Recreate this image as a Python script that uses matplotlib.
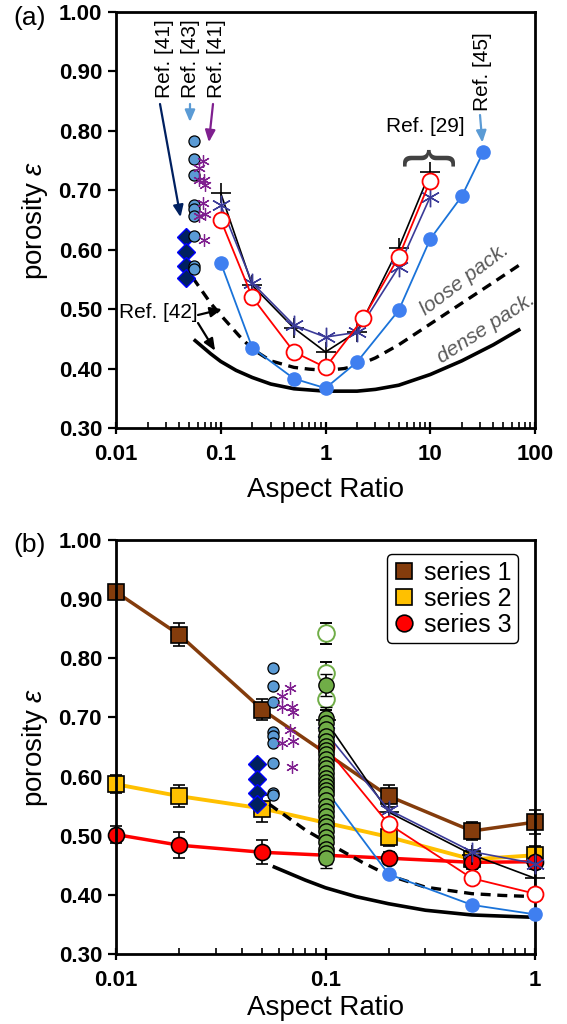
import matplotlib
matplotlib.use("Agg")
import matplotlib.pyplot as plt
from matplotlib.lines import Line2D
from matplotlib.ticker import NullFormatter

plt.rcParams['font.family'] = ['Liberation Sans', 'DejaVu Sans']
plt.rcParams['mathtext.fontset'] = 'custom'
plt.rcParams['mathtext.it'] = 'Liberation Sans:italic'
plt.rcParams['mathtext.rm'] = 'Liberation Sans'

# ---- data ----
# model / literature curves (panel a, re-used in panel b up to AR=1)
blue_x = [0.1, 0.2, 0.5, 1, 2, 5, 10, 20, 32]
blue_y = [0.578, 0.435, 0.383, 0.367, 0.411, 0.498, 0.618, 0.690, 0.764]
red_x = [0.1, 0.2, 0.5, 1, 2.3, 5, 10]
red_y = [0.650, 0.520, 0.428, 0.402, 0.485, 0.588, 0.716]
plus_x = [0.1, 0.2, 0.5, 1, 2, 5, 10]
plus_y = [0.695, 0.540, 0.468, 0.428, 0.462, 0.603, 0.731]
star_x = [0.1, 0.2, 0.5, 1, 2, 5, 10]
star_y = [0.675, 0.544, 0.473, 0.453, 0.461, 0.571, 0.689]

loose_x = [0.054, 0.08, 0.1, 0.15, 0.2, 0.3, 0.5, 0.7, 1, 1.5, 2, 3, 5, 10, 20, 40, 72]
loose_y = [0.553, 0.51, 0.49, 0.455, 0.433, 0.413, 0.402, 0.399, 0.397, 0.40, 0.405,
           0.418, 0.44, 0.475, 0.51, 0.545, 0.575]
dense_x = [0.057, 0.08, 0.1, 0.14, 0.2, 0.3, 0.5, 1, 2, 3, 5, 10, 20, 40, 70]
dense_y = [0.447, 0.425, 0.412, 0.397, 0.385, 0.374, 0.366, 0.362, 0.362, 0.365,
           0.372, 0.39, 0.413, 0.44, 0.465]

# scattered literature points near AR~0.05
ltblue_x = [0.056] * 9
ltblue_y = [0.783, 0.753, 0.726, 0.675, 0.668, 0.656, 0.623, 0.572, 0.568]
purple_x = [0.062, 0.068, 0.062, 0.069, 0.070, 0.068, 0.062, 0.070, 0.069]
purple_y = [0.737, 0.749, 0.717, 0.717, 0.709, 0.678, 0.656, 0.660, 0.616]
diam_x = [0.047] * 4
diam_y = [0.622, 0.596, 0.573, 0.553]

# panel b: series
ser_x = [0.01, 0.02, 0.05, 0.2, 0.5, 1]
s1_y = [0.912, 0.840, 0.713, 0.567, 0.508, 0.523]
s1_e = [0.012, 0.02, 0.018, 0.018, 0.015, 0.02]
s2_y = [0.587, 0.567, 0.546, 0.498, 0.460, 0.467]
s2_e = [0.015, 0.018, 0.022, 0.015, 0.015, 0.015]
s3_y = [0.502, 0.484, 0.472, 0.462, 0.455, 0.456]
s3_e = [0.015, 0.022, 0.02, 0.01, 0.012, 0.012]

# green column at AR = 0.1
green_open_y = [0.842, 0.775, 0.731]
green_y = [0.755, 0.699, 0.690, 0.680, 0.668, 0.660, 0.652, 0.645, 0.638, 0.630,
           0.622, 0.615, 0.606, 0.598, 0.590, 0.584, 0.578, 0.570, 0.560, 0.550,
           0.542, 0.533, 0.524, 0.516, 0.508, 0.497, 0.489, 0.478, 0.470, 0.463]

C_BLUE = '#3f7ff0'
C_BLUE_LN = '#1a73d9'
C_RED = '#ff0000'
C_STAR = '#3b3b98'
C_LTBLUE = '#5b9bd5'
C_PURPLE = '#7f1f8f'
C_NAVY = '#002060'
C_BROWN = '#843c0c'
C_YELLOW = '#ffc000'
C_GREEN = '#70ad47'
AST = (6, 2, 0)

FS_TICK = 16
FS_LAB = 20
FS_REF = 15


def upto(xs, ys, xmax):
    pts = [(a, b) for a, b in zip(xs, ys) if a <= xmax]
    return [p[0] for p in pts], [p[1] for p in pts]


def style_axes(ax, xmax, xticks, xlabels, xpad):
    ax.set_xscale('log')
    ax.set_xlim(0.01, xmax)
    ax.set_ylim(0.30, 1.00)
    ax.set_xticks(xticks)
    ax.set_xticklabels(xlabels, fontweight='bold', fontsize=FS_TICK)
    ax.xaxis.set_minor_formatter(NullFormatter())
    yt = [0.3 + 0.1 * i for i in range(8)]
    ax.set_yticks(yt)
    ax.set_yticklabels(['%.2f' % v for v in yt], fontweight='bold', fontsize=FS_TICK)
    for s in ax.spines.values():
        s.set_linewidth(2.0)
    ax.tick_params(axis='y', direction='out', length=6, width=1.6, pad=4)
    ax.tick_params(axis='x', which='major', direction='inout', length=9, width=1.6, pad=7)
    ax.tick_params(axis='x', which='minor', direction='in', length=4, width=1.2)
    ax.set_xlabel('Aspect Ratio', fontsize=FS_LAB, labelpad=xpad)
    ax.set_ylabel('porosity $\\varepsilon$', fontsize=FS_LAB, labelpad=6)


def draw_lit(ax, xmax):
    x, y = upto(dense_x, dense_y, xmax)
    ax.plot(x, y, color='black', lw=2.6, zorder=3, clip_on=False)
    x, y = upto(loose_x, loose_y, xmax)
    ax.plot(x, y, color='black', lw=2.4, ls=(0, (3, 2)), zorder=3, clip_on=False)
    x, y = upto(blue_x, blue_y, xmax)
    ax.plot(x, y, color=C_BLUE_LN, lw=1.3, marker='o', ms=9.5, mfc=C_BLUE, mec=C_BLUE,
            zorder=4, clip_on=False)
    x, y = upto(plus_x, plus_y, xmax)
    ax.plot(x, y, color='black', lw=1.2, marker='+', ms=14, mew=1.2, zorder=4, clip_on=False)
    x, y = upto(star_x, star_y, xmax)
    ax.plot(x, y, color=C_STAR, lw=1.2, marker=AST, ms=14, mew=1.0, zorder=4, clip_on=False)
    x, y = upto(red_x, red_y, xmax)
    ax.plot(x, y, color=C_RED, lw=1.3, marker='o', ms=11.5, mfc='white', mec=C_RED,
            mew=1.3, zorder=5, clip_on=False)
    ax.plot(diam_x, diam_y, ls='none', marker='D', ms=9.5, mfc=C_NAVY, mec='#0000ff',
            mew=1.0, zorder=5)
    ax.plot(ltblue_x, ltblue_y, ls='none', marker='o', ms=8, mfc=C_LTBLUE, mec='black',
            mew=0.9, zorder=6)
    ax.plot(purple_x, purple_y, ls='none', marker=AST, ms=9, color=C_PURPLE, mew=0.9,
            zorder=6)


fig = plt.figure(figsize=(5.67, 10.24), dpi=100)
W, H = 567.0, 1024.0

# ---------------- panel (a) ----------------
ax1 = fig.add_axes([116 / W, 1 - 428 / H, 419 / W, 416 / H])
draw_lit(ax1, 100)
style_axes(ax1, 100, [0.01, 0.1, 1, 10, 100], ['0.01', '0.1', '1', '10', '100'], 9)
fig.text(30 / W, 1 - 18 / H, '(a)', fontsize=19, ha='center', va='center')

arrow = dict(arrowstyle='-|>,head_length=0.7,head_width=0.3', lw=1.6, shrinkA=0)
ref_top = [('Ref. [41]', 164, C_NAVY, (0.0427, 0.641), 160),
           ('Ref. [43]', 190, C_LTBLUE, (0.0508, 0.801), 190),
           ('Ref. [41]', 217, C_PURPLE, (0.0755, 0.767), 213)]
for txt, xp, c, head, tx in ref_top:
    fig.text(xp / W, 1 - 98 / H, txt, rotation=90, fontsize=FS_REF, ha='center',
             va='bottom')
    ax1.annotate('', xy=head, xycoords='data', xytext=(tx / W, 1 - 104 / H),
                 textcoords='figure fraction',
                 arrowprops=dict(arrow, color=c, shrinkB=6))

fig.text(482 / W, 1 - 111 / H, 'Ref. [45]', rotation=90, fontsize=FS_REF, ha='center',
         va='bottom')
ax1.annotate('', xy=(32, 0.764), xycoords='data', xytext=(480 / W, 1 - 115 / H),
             textcoords='figure fraction',
             arrowprops=dict(arrow, color=C_LTBLUE, shrinkB=7))

fig.text(425 / W, 1 - 126 / H, 'Ref. [29]', fontsize=FS_REF, ha='center', va='center')
fig.text(427 / W, 1 - 157 / H, '{', rotation=-90, fontsize=40, ha='center', va='center',
         color='#404040')

fig.text(158 / W, 1 - 313 / H, 'Ref. [42]', fontsize=FS_REF, ha='center', va='center')
ax1.annotate('', xy=(0.1028, 0.500), xycoords='data', xytext=(198 / W, 1 - 315 / H),
             textcoords='figure fraction',
             arrowprops=dict(arrow, color='black', shrinkB=0))
ax1.annotate('', xy=(0.0883, 0.430), xycoords='data', xytext=(198 / W, 1 - 323 / H),
             textcoords='figure fraction',
             arrowprops=dict(arrow, color='black', shrinkB=0))

fig.text(465 / W, 1 - 280 / H, 'loose pack.', fontsize=15, style='italic',
         color='#595959', rotation=37, ha='center', va='center')
fig.text(486 / W, 1 - 328 / H, 'dense pack.', fontsize=15, style='italic',
         color='#595959', rotation=33, ha='center', va='center')

# ---------------- panel (b) ----------------
ax2 = fig.add_axes([116 / W, 1 - 954 / H, 419 / W, 414 / H])
draw_lit(ax2, 1)
style_axes(ax2, 1, [0.01, 0.1, 1], ['0.01', '0.1', '1'], 3)
fig.text(30 / W, 1 - 545 / H, '(b)', fontsize=19, ha='center', va='center')

eb = dict(ecolor='black', elinewidth=1.2, capsize=4, capthick=1.2, clip_on=False)
ax2.errorbar(ser_x, s1_y, yerr=s1_e, color=C_BROWN, lw=2.5, marker='s', ms=11,
             mfc=C_BROWN, mec='black', mew=1.2, zorder=2, **eb)
ax2.errorbar(ser_x, s2_y, yerr=s2_e, color=C_YELLOW, lw=2.8, marker='s', ms=11,
             mfc=C_YELLOW, mec='black', mew=1.2, zorder=2, **eb)
ax2.errorbar(ser_x, s3_y, yerr=s3_e, color=C_RED, lw=2.5, marker='o', ms=11.5,
             mfc=C_RED, mec='black', mew=1.2, zorder=2, **eb)

gx = [0.1] * len(green_y)
ax2.errorbar(gx, green_y, yerr=0.018, ls='none', marker='o', ms=11, mfc=C_GREEN,
             mec='black', mew=1.0, ecolor='black', elinewidth=1.2, capsize=4,
             capthick=1.2, zorder=7)
ax2.errorbar([0.1] * len(green_open_y), green_open_y, yerr=0.018, ls='none', marker='o',
             ms=12, mfc='white', mec=C_GREEN, mew=1.4, ecolor='black', elinewidth=1.2,
             capsize=4, capthick=1.2, zorder=6)

handles = [Line2D([], [], ls='none', marker='s', ms=12, mfc=C_BROWN, mec='black', mew=1.2),
           Line2D([], [], ls='none', marker='s', ms=12, mfc=C_YELLOW, mec='black', mew=1.2),
           Line2D([], [], ls='none', marker='o', ms=12, mfc=C_RED, mec='black', mew=1.2)]
leg = ax2.legend(handles, ['series 1', 'series 2', 'series 3'], loc='upper right',
                 bbox_to_anchor=(0.96, 0.965), fontsize=18, fancybox=True,
                 framealpha=1, edgecolor='black', handlelength=0.9,
                 handletextpad=0.35, borderpad=0.25, labelspacing=0.08,
                 borderaxespad=0.0)
leg.get_frame().set_linewidth(1.0)
leg.set_zorder(10)

fig.savefig('out.png', dpi=100)
